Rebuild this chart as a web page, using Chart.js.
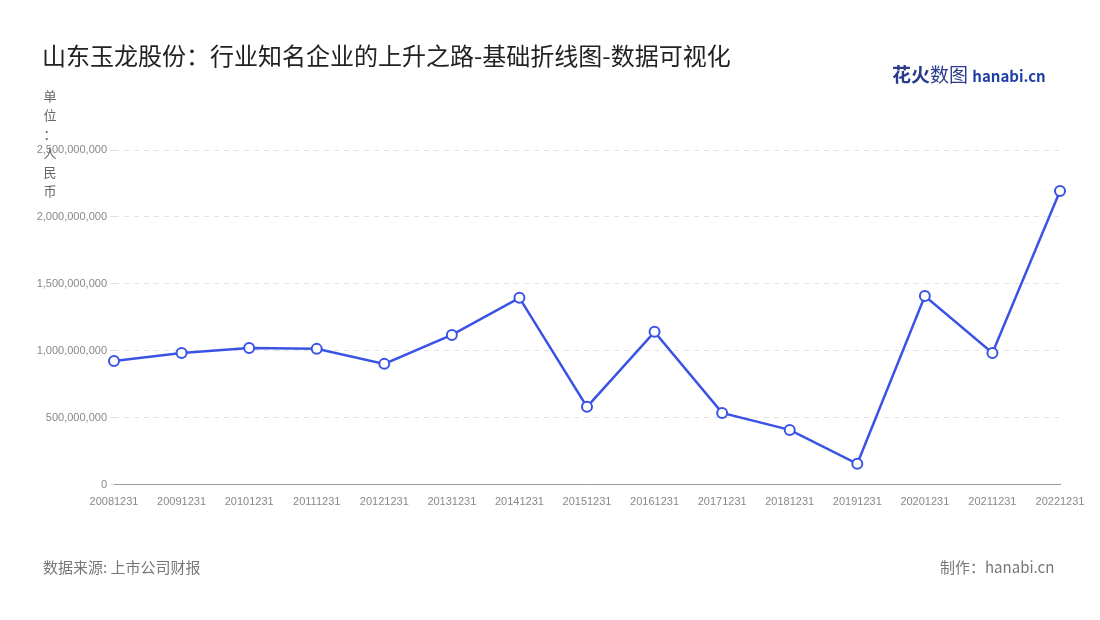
<!DOCTYPE html>
<html>
<head>
<meta charset="utf-8">
<script src="https://cdn.jsdelivr.net/npm/chart.js@4"></script>
<style>
  body { margin: 0; background: #fff; font-family: "Noto Sans CJK SC", "Noto Sans", sans-serif; }
  #wrap { position: relative; width: 1100px; height: 620px; }
  canvas { position: absolute; left: 0; top: 0; }
  .t { position: absolute; white-space: nowrap; }
</style>
</head>
<body>
<div id="wrap">
  <canvas id="c" width="1100" height="620"></canvas>
  <div class="t" style="left:42px;top:37px;font-size:24px;color:#222;">山东玉龙股份：行业知名企业的上升之路-基础折线图-数据可视化</div>
  <div class="t" style="left:892px;top:60px;font-size:19px;font-weight:bold;color:#2a3a8c;">花火<span style="font-weight:normal">数图</span> <span style="font-size:15px;color:#1f3fa8;">hanabi.cn</span></div>
  <div class="t" style="left:43px;top:86px;font-size:13px;color:#666;line-height:19px;width:14px;white-space:normal;text-align:center;">单 位 ： 人 民 币</div>
  <div class="t" style="left:43px;top:556px;font-size:15px;color:#777;">数据来源: 上市公司财报</div>
  <div class="t" style="left:940px;top:556px;font-size:15px;color:#777;">制作：hanabi.cn</div>
</div>
<script>
// Data
const years = ['20081231','20091231','20101231','20111231','20121231','20131231','20141231','20151231',
  '20161231','20171231','20181231','20191231','20201231','20211231','20221231'];
const values = [925e6, 985e6, 1022e6, 1015e6, 903e6, 1119e6, 1396e6, 582e6,
  1142e6, 537e6, 410e6, 157e6, 1410e6, 985e6, 2194e6];

new Chart(document.getElementById('c'), {
  type: 'line',
  data: {
    labels: years,
    datasets: [{
      data: values,
      borderColor: '#3a53e4',
      borderWidth: 2.5,
      pointBackgroundColor: '#fff',
      pointBorderColor: '#3a53e4',
      pointBorderWidth: 2,
      pointRadius: 5,
      tension: 0
    }]
  },
  options: {
    responsive: false,
    animation: false,
    layout: { padding: { left: 0, right: 40, top: 150, bottom: 108 } },
    plugins: { legend: { display: false }, tooltip: { enabled: false } },
    scales: {
      x: {
        offset: false,
        grid: { display: false },
        border: { color: '#999' },
        ticks: { color: '#888', font: { size: 11 }, maxRotation: 0, autoSkip: false }
      },
      y: {
        min: 0, max: 2500000000,
        afterFit: s => { s.width = 114; },
        grid: { color: '#e2e2e2', drawTicks: true, tickLength: 4 },
        border: { display: false, dash: [5, 5] },
        ticks: {
          stepSize: 500000000, color: '#888', font: { size: 11 },
          callback: v => v.toLocaleString('en-US')
        }
      }
    }
  }
});
</script>
</body>
</html>
